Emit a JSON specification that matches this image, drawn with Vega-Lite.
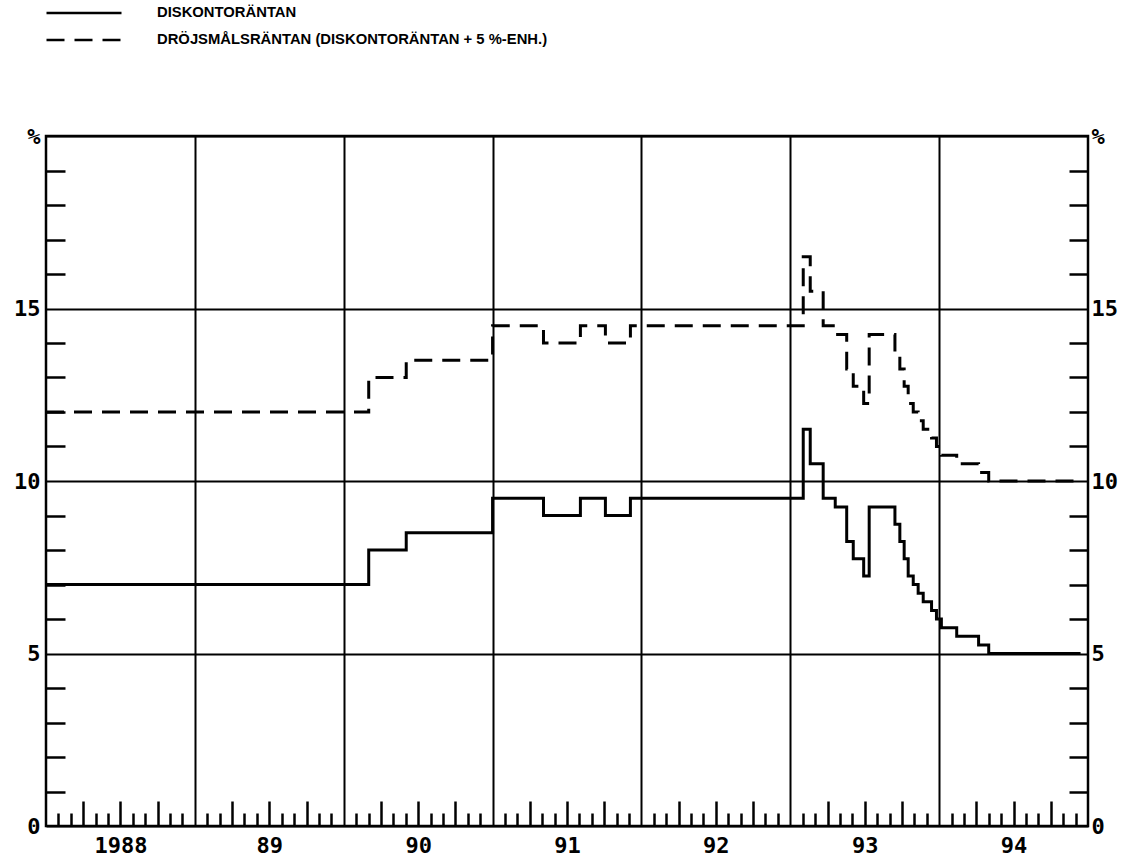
{
  "$schema": "https://vega.github.io/schema/vega-lite/v6.json",
  "width": 1042,
  "height": 690,
  "autosize": {"type": "none"},
  "padding": {"left": 46, "top": 136, "right": 36, "bottom": 35},
  "background": "white",
  "config": {
    "view": {"stroke": "black", "strokeWidth": 2.5},
    "axis": {"titleFontSize": 0, "domain": false, "labelFont": "DejaVu Sans Mono", "labelFontWeight": "bold", "labelFontSize": 22, "labelColor": "black", "tickColor": "black", "tickWidth": 2.5, "gridColor": "black", "gridWidth": 2, "gridOpacity": 1, "labelOverlap": false, "labelFlush": false}
  },
  "data": {
    "values": [
      {"t": 1988.0, "v": 7.0, "s": "DISKONTORÄNTAN"},
      {"t": 1990.168, "v": 8.0, "s": "DISKONTORÄNTAN"},
      {"t": 1990.42, "v": 8.5, "s": "DISKONTORÄNTAN"},
      {"t": 1991.0, "v": 9.5, "s": "DISKONTORÄNTAN"},
      {"t": 1991.342, "v": 9.0, "s": "DISKONTORÄNTAN"},
      {"t": 1991.59, "v": 9.5, "s": "DISKONTORÄNTAN"},
      {"t": 1991.758, "v": 9.0, "s": "DISKONTORÄNTAN"},
      {"t": 1991.926, "v": 9.5, "s": "DISKONTORÄNTAN"},
      {"t": 1993.087, "v": 11.5, "s": "DISKONTORÄNTAN"},
      {"t": 1993.134, "v": 10.5, "s": "DISKONTORÄNTAN"},
      {"t": 1993.221, "v": 9.5, "s": "DISKONTORÄNTAN"},
      {"t": 1993.302, "v": 9.25, "s": "DISKONTORÄNTAN"},
      {"t": 1993.379, "v": 8.25, "s": "DISKONTORÄNTAN"},
      {"t": 1993.423, "v": 7.75, "s": "DISKONTORÄNTAN"},
      {"t": 1993.493, "v": 7.25, "s": "DISKONTORÄNTAN"},
      {"t": 1993.53, "v": 9.25, "s": "DISKONTORÄNTAN"},
      {"t": 1993.703, "v": 8.75, "s": "DISKONTORÄNTAN"},
      {"t": 1993.736, "v": 8.25, "s": "DISKONTORÄNTAN"},
      {"t": 1993.765, "v": 7.75, "s": "DISKONTORÄNTAN"},
      {"t": 1993.792, "v": 7.25, "s": "DISKONTORÄNTAN"},
      {"t": 1993.826, "v": 7.0, "s": "DISKONTORÄNTAN"},
      {"t": 1993.859, "v": 6.75, "s": "DISKONTORÄNTAN"},
      {"t": 1993.893, "v": 6.5, "s": "DISKONTORÄNTAN"},
      {"t": 1993.949, "v": 6.25, "s": "DISKONTORÄNTAN"},
      {"t": 1993.982, "v": 6.0, "s": "DISKONTORÄNTAN"},
      {"t": 1994.015, "v": 5.75, "s": "DISKONTORÄNTAN"},
      {"t": 1994.118, "v": 5.5, "s": "DISKONTORÄNTAN"},
      {"t": 1994.265, "v": 5.25, "s": "DISKONTORÄNTAN"},
      {"t": 1994.333, "v": 5.0, "s": "DISKONTORÄNTAN"},
      {"t": 1994.95, "v": 5.0, "s": "DISKONTORÄNTAN"},
      {"t": 1988.0, "v": 12.0, "s": "DRÖJSMÅLSRÄNTAN (DISKONTORÄNTAN + 5 %-ENH.)"},
      {"t": 1990.168, "v": 13.0, "s": "DRÖJSMÅLSRÄNTAN (DISKONTORÄNTAN + 5 %-ENH.)"},
      {"t": 1990.42, "v": 13.5, "s": "DRÖJSMÅLSRÄNTAN (DISKONTORÄNTAN + 5 %-ENH.)"},
      {"t": 1991.0, "v": 14.5, "s": "DRÖJSMÅLSRÄNTAN (DISKONTORÄNTAN + 5 %-ENH.)"},
      {"t": 1991.342, "v": 14.0, "s": "DRÖJSMÅLSRÄNTAN (DISKONTORÄNTAN + 5 %-ENH.)"},
      {"t": 1991.59, "v": 14.5, "s": "DRÖJSMÅLSRÄNTAN (DISKONTORÄNTAN + 5 %-ENH.)"},
      {"t": 1991.758, "v": 14.0, "s": "DRÖJSMÅLSRÄNTAN (DISKONTORÄNTAN + 5 %-ENH.)"},
      {"t": 1991.926, "v": 14.5, "s": "DRÖJSMÅLSRÄNTAN (DISKONTORÄNTAN + 5 %-ENH.)"},
      {"t": 1993.087, "v": 16.5, "s": "DRÖJSMÅLSRÄNTAN (DISKONTORÄNTAN + 5 %-ENH.)"},
      {"t": 1993.134, "v": 15.5, "s": "DRÖJSMÅLSRÄNTAN (DISKONTORÄNTAN + 5 %-ENH.)"},
      {"t": 1993.221, "v": 14.5, "s": "DRÖJSMÅLSRÄNTAN (DISKONTORÄNTAN + 5 %-ENH.)"},
      {"t": 1993.302, "v": 14.25, "s": "DRÖJSMÅLSRÄNTAN (DISKONTORÄNTAN + 5 %-ENH.)"},
      {"t": 1993.379, "v": 13.25, "s": "DRÖJSMÅLSRÄNTAN (DISKONTORÄNTAN + 5 %-ENH.)"},
      {"t": 1993.423, "v": 12.75, "s": "DRÖJSMÅLSRÄNTAN (DISKONTORÄNTAN + 5 %-ENH.)"},
      {"t": 1993.493, "v": 12.25, "s": "DRÖJSMÅLSRÄNTAN (DISKONTORÄNTAN + 5 %-ENH.)"},
      {"t": 1993.53, "v": 14.25, "s": "DRÖJSMÅLSRÄNTAN (DISKONTORÄNTAN + 5 %-ENH.)"},
      {"t": 1993.703, "v": 13.75, "s": "DRÖJSMÅLSRÄNTAN (DISKONTORÄNTAN + 5 %-ENH.)"},
      {"t": 1993.736, "v": 13.25, "s": "DRÖJSMÅLSRÄNTAN (DISKONTORÄNTAN + 5 %-ENH.)"},
      {"t": 1993.765, "v": 12.75, "s": "DRÖJSMÅLSRÄNTAN (DISKONTORÄNTAN + 5 %-ENH.)"},
      {"t": 1993.792, "v": 12.25, "s": "DRÖJSMÅLSRÄNTAN (DISKONTORÄNTAN + 5 %-ENH.)"},
      {"t": 1993.826, "v": 12.0, "s": "DRÖJSMÅLSRÄNTAN (DISKONTORÄNTAN + 5 %-ENH.)"},
      {"t": 1993.859, "v": 11.75, "s": "DRÖJSMÅLSRÄNTAN (DISKONTORÄNTAN + 5 %-ENH.)"},
      {"t": 1993.893, "v": 11.5, "s": "DRÖJSMÅLSRÄNTAN (DISKONTORÄNTAN + 5 %-ENH.)"},
      {"t": 1993.949, "v": 11.25, "s": "DRÖJSMÅLSRÄNTAN (DISKONTORÄNTAN + 5 %-ENH.)"},
      {"t": 1993.982, "v": 11.0, "s": "DRÖJSMÅLSRÄNTAN (DISKONTORÄNTAN + 5 %-ENH.)"},
      {"t": 1994.015, "v": 10.75, "s": "DRÖJSMÅLSRÄNTAN (DISKONTORÄNTAN + 5 %-ENH.)"},
      {"t": 1994.118, "v": 10.5, "s": "DRÖJSMÅLSRÄNTAN (DISKONTORÄNTAN + 5 %-ENH.)"},
      {"t": 1994.265, "v": 10.25, "s": "DRÖJSMÅLSRÄNTAN (DISKONTORÄNTAN + 5 %-ENH.)"},
      {"t": 1994.333, "v": 10.0, "s": "DRÖJSMÅLSRÄNTAN (DISKONTORÄNTAN + 5 %-ENH.)"},
      {"t": 1994.95, "v": 10.0, "s": "DRÖJSMÅLSRÄNTAN (DISKONTORÄNTAN + 5 %-ENH.)"}
    ]
  },
  "resolve": {"axis": {"x": "independent", "y": "independent"}},
  "layer": [
    {
      "mark": {"type": "line", "opacity": 0},
      "encoding": {
        "x": {"field": "t", "type": "quantitative", "scale": {"domain": [1988, 1995], "nice": false, "zero": false},
          "axis": {"orient": "bottom", "title": null, "values": [1988.0833, 1988.1667, 1988.3333, 1988.4167, 1988.5833, 1988.6667, 1988.8333, 1988.9167, 1989.0833, 1989.1667, 1989.3333, 1989.4167, 1989.5833, 1989.6667, 1989.8333, 1989.9167, 1990.0833, 1990.1667, 1990.3333, 1990.4167, 1990.5833, 1990.6667, 1990.8333, 1990.9167, 1991.0833, 1991.1667, 1991.3333, 1991.4167, 1991.5833, 1991.6667, 1991.8333, 1991.9167, 1992.0833, 1992.1667, 1992.3333, 1992.4167, 1992.5833, 1992.6667, 1992.8333, 1992.9167, 1993.0833, 1993.1667, 1993.3333, 1993.4167, 1993.5833, 1993.6667, 1993.8333, 1993.9167, 1994.0833, 1994.1667, 1994.3333, 1994.4167, 1994.5833, 1994.6667, 1994.8333, 1994.9167], "labels": false, "grid": false, "ticks": true, "tickSize": -13}},
        "y": {"field": "v", "type": "quantitative", "scale": {"domain": [0, 20], "nice": false, "zero": true},
          "axis": {"orient": "left", "title": null, "values": [1, 2, 3, 4, 6, 7, 8, 9, 11, 12, 13, 14, 16, 17, 18, 19], "labels": false, "grid": false, "ticks": true, "tickSize": -19}}
      }
    },
    {
      "mark": {"type": "line", "opacity": 0},
      "encoding": {
        "x": {"field": "t", "type": "quantitative",
          "axis": {"orient": "bottom", "title": null, "values": [1988.25, 1988.5, 1988.75, 1989.25, 1989.5, 1989.75, 1990.25, 1990.5, 1990.75, 1991.25, 1991.5, 1991.75, 1992.25, 1992.5, 1992.75, 1993.25, 1993.5, 1993.75, 1994.25, 1994.5, 1994.75], "labels": false, "grid": false, "ticks": true, "tickSize": -25}},
        "y": {"field": "v", "type": "quantitative",
          "axis": {"orient": "right", "title": null, "values": [1, 2, 3, 4, 6, 7, 8, 9, 11, 12, 13, 14, 16, 17, 18, 19], "labels": false, "grid": false, "ticks": true, "tickSize": -19}}
      }
    },
    {
      "mark": {"type": "line", "opacity": 0},
      "encoding": {
        "x": {"field": "t", "type": "quantitative",
          "axis": {"orient": "bottom", "title": null, "values": [1989, 1990, 1991, 1992, 1993, 1994], "labels": false, "ticks": false, "grid": true}},
        "y": {"field": "v", "type": "quantitative",
          "axis": {"orient": "right", "title": null, "values": [0, 5, 10, 15, 20], "ticks": false, "grid": false, "labelPadding": 3, "labelExpr": "datum.value == 20 ? '%' : datum.label"}}
      }
    },
    {
      "mark": {"type": "line", "color": "black", "strokeWidth": 3, "interpolate": "step-after", "strokeCap": "butt"},
      "encoding": {
        "x": {"field": "t", "type": "quantitative",
          "axis": {"orient": "bottom", "title": null, "values": [1988.5, 1989.5, 1990.5, 1991.5, 1992.5, 1993.5, 1994.5], "ticks": false, "grid": false, "labelPadding": 9, "labelExpr": "datum.value < 1989 ? '1988' : substring('' + floor(datum.value), 2)"}},
        "y": {"field": "v", "type": "quantitative",
          "axis": {"orient": "left", "title": null, "values": [0, 5, 10, 15, 20], "ticks": false, "grid": true, "labelPadding": 6, "labelExpr": "datum.value == 20 ? '%' : datum.label"}},
        "strokeDash": {"field": "s", "type": "nominal",
          "scale": {"domain": ["DISKONTORÄNTAN", "DRÖJSMÅLSRÄNTAN (DISKONTORÄNTAN + 5 %-ENH.)"], "range": [[1, 0], [18, 10]]},
          "legend": {"title": null, "orient": "none", "legendX": -1, "legendY": -132, "padding": 0, "symbolType": "M-1,0H9", "symbolSize": 225, "symbolStrokeWidth": 2.5, "symbolStrokeColor": "black", "symbolFillColor": "transparent", "labelOffset": 94, "labelLimit": 700, "labelFont": "Liberation Sans", "labelFontWeight": "bold", "labelFontSize": 14.8, "labelColor": "black", "rowPadding": 11}}
      }
    }
  ]
}
